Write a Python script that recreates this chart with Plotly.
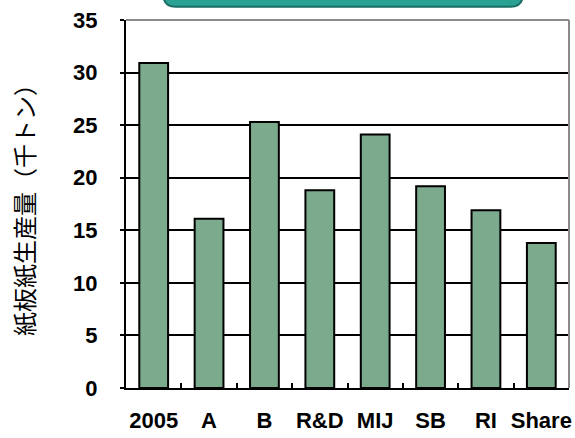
import plotly.graph_objects as go

# data
categories = ['2005', 'A', 'B', 'R&D', 'MIJ', 'SB', 'RI', 'Share']
production = [30.9, 16.1, 25.3, 18.8, 24.1, 19.2, 16.9, 13.8]
y_ticks = [0, 5, 10, 15, 20, 25, 30, 35]

bar_color = '#7caa8c'
box_fill = '#2aa193'
box_edge = '#1b6e66'
tick_font = dict(family='Liberation Sans, Arial', size=22, color='black', weight='bold')

fig = go.Figure()

fig.add_trace(go.Bar(
    x=categories,
    y=production,
    width=0.52,
    marker=dict(color=bar_color, line=dict(color='black', width=2)),
))

# teal header box, cut off by the top of the picture
r_x, r_y = 0.028, 0.035
x0, x1, y0, y1 = 0.084, 0.896, 1.036, 1.25
path = (f'M {x0},{y1} L {x0},{y0 + r_y} Q {x0},{y0} {x0 + r_x},{y0} '
        f'L {x1 - r_x},{y0} Q {x1},{y0} {x1},{y0 + r_y} L {x1},{y1} Z')
fig.add_shape(type='path', path=path, xref='paper', yref='paper',
              fillcolor=box_fill, line=dict(color=box_edge, width=2), layer='above')

# grey frame on top and right
fig.add_shape(type='line', xref='paper', yref='paper', x0=0, x1=1, y0=1, y1=1,
              line=dict(color='#8a8a8a', width=2))
fig.add_shape(type='line', xref='paper', yref='paper', x0=1, x1=1, y0=0, y1=1,
              line=dict(color='#8a8a8a', width=2))

fig.update_layout(
    width=575,
    height=438,
    margin=dict(l=126, r=6, t=20, b=50),
    paper_bgcolor='white',
    plot_bgcolor='white',
    showlegend=False,
)

fig.update_xaxes(
    type='category',
    showline=True, linecolor='black', linewidth=2,
    ticks='inside', tickson='boundaries', ticklen=5, tickcolor='black', tickwidth=1.5,
    tickfont=tick_font,
    tickangle=0,
    ticklabelstandoff=12,
    ticklabeloverflow='allow',
    automargin=False,
    showgrid=False,
)

fig.update_yaxes(
    range=[0, 35],
    tickvals=y_ticks,
    showline=True, linecolor='black', linewidth=2,
    ticks='outside', ticklen=4, tickcolor='black', tickwidth=1.5,
    tickfont=tick_font,
    ticklabelstandoff=18,
    ticklabeloverflow='allow',
    automargin=False,
    showgrid=True, gridcolor='black', gridwidth=1.5,
    zeroline=False,
    title=dict(text='紙板紙生産量（千トン）', standoff=32,
               font=dict(family='Noto Sans CJK JP', size=24, color='black')),
)

# drop the default page margin so the figure sits at the window corner
fig.write_html('out.html', config={'displayModeBar': False},
               post_script="document.body.style.margin = '0';")
